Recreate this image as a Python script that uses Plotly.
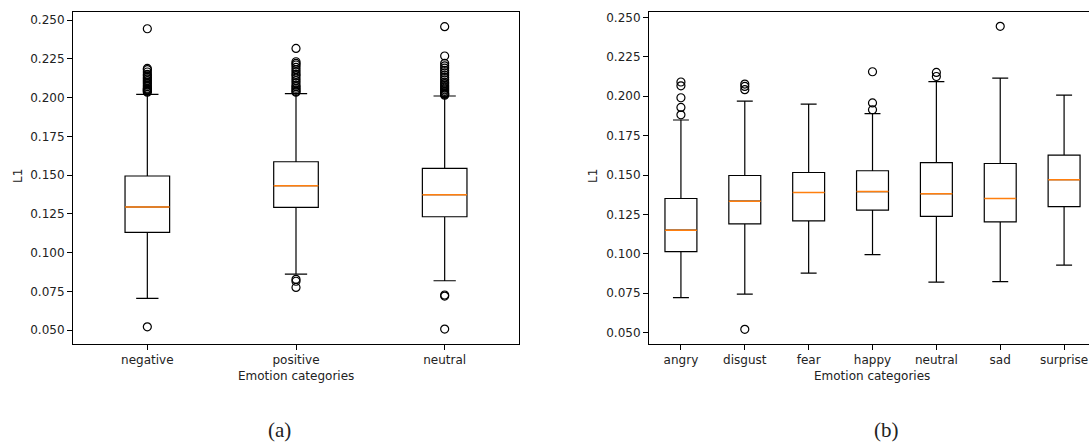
import plotly.graph_objects as go

W, H = 1089, 447

# ---------------- data: panel (a) ----------------
cats_a = ["negative", "positive", "neutral"]
q1_a = [0.1130, 0.1292, 0.1231]
med_a = [0.1294, 0.1431, 0.1373]
q3_a = [0.1494, 0.1586, 0.1543]
lo_a = [0.0704, 0.0861, 0.0818]
hi_a = [0.2021, 0.2025, 0.2010]
out_neg = [0.2035, 0.2040, 0.2045, 0.2050, 0.2055, 0.2060, 0.2070, 0.2080, 0.2090,
           0.2100, 0.2110, 0.2120, 0.2130, 0.2140, 0.2150, 0.2165, 0.2180, 0.2188,
           0.2444, 0.0521]
out_pos = [0.2035, 0.2040, 0.2050, 0.2060, 0.2070, 0.2080, 0.2095, 0.2110, 0.2125,
           0.2140, 0.2150, 0.2165, 0.2180, 0.2195, 0.2210, 0.2220, 0.2231, 0.2317,
           0.0827, 0.0815, 0.0775]
out_neu = [0.2015, 0.2020, 0.2025, 0.2030, 0.2040, 0.2050, 0.2060, 0.2070, 0.2080,
           0.2090, 0.2100, 0.2115, 0.2130, 0.2145, 0.2160, 0.2175, 0.2190, 0.2205,
           0.2221, 0.2268, 0.2457, 0.0726, 0.0719, 0.0506]
outliers_a = [out_neg, out_pos, out_neu]

# ---------------- data: panel (b) ----------------
cats_b = ["angry", "disgust", "fear", "happy", "neutral", "sad", "surprise"]
q1_b = [0.1014, 0.1190, 0.1209, 0.1277, 0.1237, 0.1203, 0.1300]
med_b = [0.1150, 0.1334, 0.1389, 0.1395, 0.1381, 0.1351, 0.1470]
q3_b = [0.1351, 0.1497, 0.1516, 0.1527, 0.1579, 0.1573, 0.1626]
lo_b = [0.0722, 0.0744, 0.0877, 0.0995, 0.0820, 0.0824, 0.0928]
hi_b = [0.1849, 0.1969, 0.1950, 0.1889, 0.2092, 0.2115, 0.2007]
outliers_b = [
    [0.2090, 0.2066, 0.1990, 0.1929, 0.1882],
    [0.2077, 0.2062, 0.2041, 0.0521],
    [],
    [0.2155, 0.1957, 0.1914],
    [0.2151, 0.2125],
    [0.2443],
    [],
]

y_ticks = [0.050, 0.075, 0.100, 0.125, 0.150, 0.175, 0.200, 0.225, 0.250]

# ---------------- styling ----------------
ORANGE = "#ff7f0e"
TXT = "#222222"
FONT = "DejaVu Sans"


def px_x(p):
    return p / W


def px_y(p):
    return 1 - p / H


fig = go.Figure()


def add_panel(cats, q1, med, q3, lo, hi, outs, width, xa, ya):
    pos = list(range(1, len(cats) + 1))
    fig.add_trace(go.Box(
        x=pos, q1=q1, median=med, q3=q3, lowerfence=lo, upperfence=hi,
        width=width, whiskerwidth=0.5, fillcolor="white",
        line=dict(color="black", width=1.2), boxpoints=False,
        xaxis=xa, yaxis=ya, showlegend=False, hoverinfo="skip"))
    mx, my = [], []
    for p, m in zip(pos, med):
        mx += [p - width / 2, p + width / 2, None]
        my += [m, m, None]
    fig.add_trace(go.Scatter(x=mx, y=my, mode="lines",
                             line=dict(color=ORANGE, width=1.5),
                             xaxis=xa, yaxis=ya, showlegend=False, hoverinfo="skip"))
    ox, oy = [], []
    for p, o in zip(pos, outs):
        ox += [p] * len(o)
        oy += o
    fig.add_trace(go.Scatter(x=ox, y=oy, mode="markers",
                             marker=dict(symbol="circle-open", size=8,
                                         color="black", line=dict(width=1.2)),
                             xaxis=xa, yaxis=ya, showlegend=False, hoverinfo="skip"))


add_panel(cats_a, q1_a, med_a, q3_a, lo_a, hi_a, outliers_a, 0.3, "x", "y")
add_panel(cats_b, q1_b, med_b, q3_b, lo_b, hi_b, outliers_b, 0.5, "x2", "y2")

ydom = [px_y(344), px_y(12)]
common_ax = dict(showgrid=False, zeroline=False, showline=True, linecolor="black",
                 linewidth=1, ticks="outside", ticklen=5, tickcolor="black",
                 automargin=False,
                 tickfont=dict(family=FONT, size=12, color=TXT))

fig.update_layout(
    width=W, height=H,
    margin=dict(l=0, r=0, t=0, b=0, pad=0),
    paper_bgcolor="white", plot_bgcolor="white",
    xaxis=dict(domain=[px_x(73), px_x(519)], range=[0.5, 3.5],
               tickvals=list(range(1, 4)), ticktext=cats_a, mirror=True,
               anchor="y", **common_ax),
    yaxis=dict(domain=ydom, range=[0.041, 0.2552], tickvals=y_ticks,
               tickformat=".3f", mirror=True, anchor="x", **common_ax),
    xaxis2=dict(domain=[px_x(649), 1.0], range=[0.5, 7.39],
                tickvals=list(range(1, 8)), ticktext=cats_b, mirror=True,
                anchor="y2", **common_ax),
    yaxis2=dict(domain=ydom, range=[0.0428, 0.2534], tickvals=y_ticks,
                tickformat=".3f", mirror=False, anchor="x2", **common_ax),
)

annots = [
    dict(text="Emotion categories", x=px_x(296), y=px_y(376), size=12, fam=FONT, ang=0),
    dict(text="Emotion categories", x=px_x(872), y=px_y(376), size=12, fam=FONT, ang=0),
    dict(text="L1", x=px_x(18), y=px_y(176), size=12, fam=FONT, ang=-90),
    dict(text="L1", x=px_x(593), y=px_y(176), size=12, fam=FONT, ang=-90),
    dict(text="(a)", x=px_x(279), y=px_y(430), size=21, fam="Liberation Serif", ang=0),
    dict(text="(b)", x=px_x(886), y=px_y(430), size=21, fam="Liberation Serif", ang=0),
]
for a in annots:
    fig.add_annotation(text=a["text"], x=a["x"], y=a["y"], xref="paper", yref="paper",
                       xanchor="center", yanchor="middle", showarrow=False,
                       textangle=a["ang"],
                       font=dict(family=a["fam"], size=a["size"], color=TXT))

fig.write_html(
    "out.html",
    config={"displayModeBar": False},
    post_script="document.body.style.margin='0px';document.body.style.padding='0px';"
                "document.body.style.overflow='hidden';",
)
